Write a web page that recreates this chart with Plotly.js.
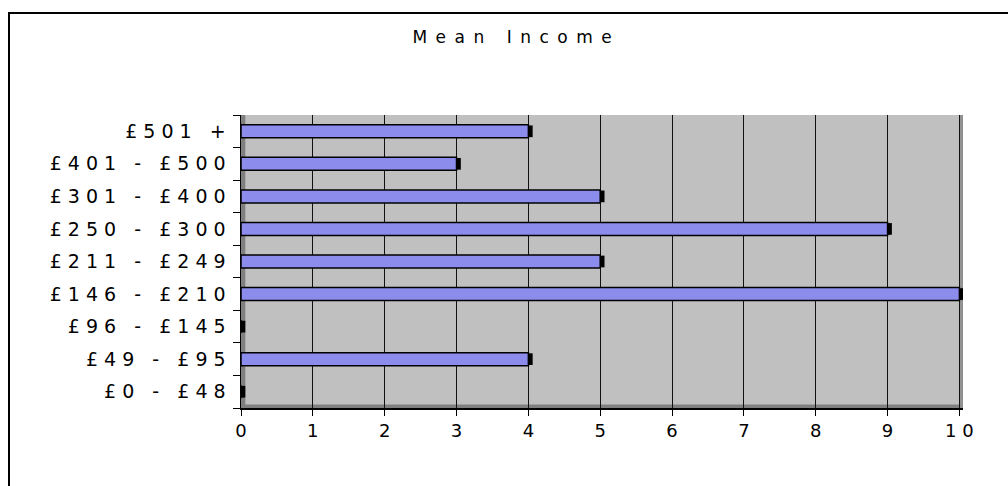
<!DOCTYPE html>
<html><head><meta charset="utf-8">
<script src="https://cdn.plot.ly/plotly-3.0.1.min.js"></script>
<style>
html,body{margin:0;padding:0;overflow:hidden;background:#fff;}
#chart{width:1008px;height:486px;position:absolute;left:0;top:0;}
#frame{position:absolute;left:8px;top:12px;width:1100px;height:600px;border:2px solid #000;pointer-events:none;box-sizing:border-box;}
</style></head>
<body>
<div id="chart"></div>
<div id="frame"></div>
<script>
const categories = ["£0 - £48","£49 - £95","£96 - £145","£146 - £210","£211 - £249","£250 - £300","£301 - £400","£401 - £500","£501 +"];
const values = [0,4,0,10,5,9,5,3,4];
const xTicks = [0,1,2,3,4,5,6,7,8,9,10];
const titleText = "Mean Income";

const spaced = (s, sep) => s.split("").join(sep || " ");
const depth = 0.06;

const bars = {
  type:'bar', orientation:'h', y:categories, x:values,
  marker:{color:'#8c8cec', line:{color:'#000', width:1.5}},
  width:0.4, hoverinfo:'x+y'
};
const caps = {
  type:'bar', orientation:'h', y:categories, x:values.map(()=>depth), base:values,
  marker:{color:'#000', line:{width:0}}, width:0.36, hoverinfo:'skip'
};

const layout = {
  width:1008, height:486,
  margin:{l:241, r:45, t:115, b:78},
  paper_bgcolor:'#fff', plot_bgcolor:'#c0c0c0',
  showlegend:false, barmode:'overlay',
  title:{text:spaced(titleText, "\u2002"), font:{family:'DejaVu Sans', size:17, color:'#000'},
    xref:'container', yref:'container', x:0.508, xanchor:'center', y:0.924, yanchor:'middle'},
  xaxis:{range:[0,10.05], tickvals:xTicks, ticktext:xTicks.map(v=>spaced(String(v))),
    showgrid:true, gridcolor:'#111', gridwidth:1, zeroline:false,
    showline:true, linecolor:'#000', linewidth:1.5,
    ticks:'outside', ticklen:6, tickcolor:'#000',
    tickfont:{family:'DejaVu Sans', size:18, color:'#000'}},
  yaxis:{type:'category', categoryarray:categories, tickvals:categories, ticktext:categories.map(c=>spaced(c)),
    showgrid:false, zeroline:false, showline:true, linecolor:'#000', linewidth:1.5,
    ticks:'outside', ticklen:7, tickcolor:'#000', tickson:'boundaries', ticklabelstandoff:10,
    tickfont:{family:'DejaVu Sans', size:19, color:'#000'}, range:[-0.5,8.5]},
  shapes:[
    {type:'rect', xref:'paper', yref:'paper', x0:0, x1:0.006, y0:0, y1:1, fillcolor:'#808080', line:{width:0}, layer:'below'},
    {type:'rect', xref:'paper', yref:'paper', x0:0, x1:1, y0:0, y1:0.012, fillcolor:'#808080', line:{width:0}, layer:'below'},
    {type:'rect', xref:'paper', yref:'paper', x0:0.996, x1:1, y0:0, y1:1, fillcolor:'#909090', line:{width:0}, layer:'below'}
  ]
};
Plotly.newPlot('chart',[bars,caps],layout,{displayModeBar:false,staticPlot:true});
</script>
</body></html>
